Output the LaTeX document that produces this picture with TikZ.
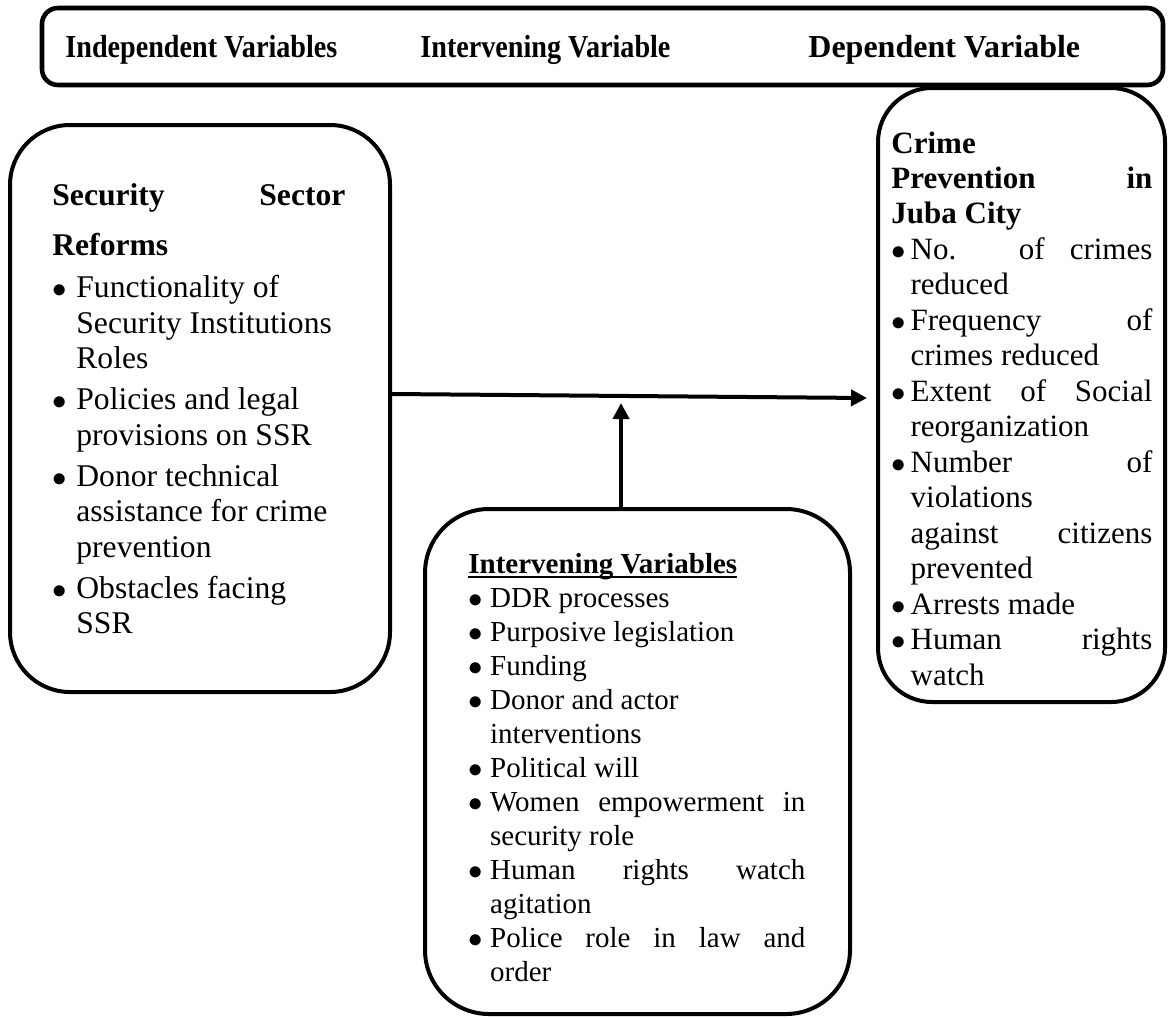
\documentclass[tikz,border=0pt]{standalone}
\usepackage{fontspec}
\setmainfont{Liberation Serif}
\newfontfamily\hdrfont[FakeStretch=0.88]{Liberation Serif}
\usetikzlibrary{arrows.meta,calc}

\tolerance=10000
\hbadness=10000
\hyphenpenalty=10000
\exhyphenpenalty=10000

% bullet with hanging text
\newlength{\bulletgap}
\newcommand{\bitem}{\par\noindent\hangindent=\bulletgap\hangafter=1\makebox[\bulletgap][l]{$\bullet$}\ignorespaces}
% word style underline
\newcommand{\hdrul}[1]{\setbox0=\hbox{#1}\rlap{\rule[-2.4pt]{\wd0}{1.1pt}}\box0}

\begin{document}
\begin{tikzpicture}[x=0.5pt,y=-0.5pt,
    varbox/.style={draw, line width=2pt, rounded corners=#1, inner sep=0pt},
    vartext/.style={anchor=north west, inner sep=0pt, align=justify},
    hdrtext/.style={anchor=base west, inner sep=0pt, font=\hdrfont\bfseries\fontsize{16pt}{18pt}\selectfont},
    link/.style={line width=2pt, -{Triangle[length=8pt,width=8pt]}}]
  \useasboundingbox (0,0) rectangle (1170,1017);

  % header strip
  \node[varbox=8pt, line width=2.3pt, minimum width=560.5pt, minimum height=38.5pt] (hdr) at (602.5,46.5) {};
  \node[hdrtext] (hdrind) at (65,57) {Independent Variables};
  \node[hdrtext] (hdrint) at (420,57) {Intervening Variable};
  \node[hdrtext, font=\rmfamily\bfseries\fontsize{16pt}{18pt}\selectfont] (hdrdep) at (808,57) {Dependent Variable};

  % independent variables (left)
  \node[varbox=30pt, minimum width=190pt, minimum height=283.5pt] (lbox) at (200,408.5) {};
  \node[vartext, text width=146.5pt, font=\fontsize{15.8pt}{17.75pt}\selectfont] (ltext) at (52,183) {%
    \setlength{\bulletgap}{0.76em}%
    {\bfseries\baselineskip=25pt\noindent Security Sector\linebreak Reforms\par}\vskip 0.75pt
    \parskip=2.75pt
    \bitem Functionality of\newline Security Institutions\newline Roles
    \bitem Policies and legal\newline provisions on SSR
    \bitem Donor technical\newline assistance for crime\newline prevention
    \bitem Obstacles facing\newline SSR\par};

  % dependent variable (right)
  \node[varbox=27pt, minimum width=143.5pt, minimum height=307pt] (rbox) at (1021.5,395) {};
  \node[vartext, text width=130.5pt, font=\fontsize{15.5pt}{17.75pt}\selectfont] (rtext) at (891,132) {%
    \setlength{\bulletgap}{0.62em}%
    {\bfseries\baselineskip=17.5pt\noindent Crime\newline Prevention in\linebreak Juba City\par}
    \bitem No. of crimes\linebreak reduced
    \bitem Frequency of\linebreak crimes reduced
    \bitem Extent of Social\linebreak reorganization
    \bitem Number of\linebreak violations\newline against citizens\linebreak prevented
    \bitem Arrests made
    \bitem Human rights\linebreak watch\par};

  % intervening variables (middle)
  \node[varbox=32pt, minimum width=212.5pt, minimum height=252.5pt] (mbox) at (637.5,761.5) {};
  \node[vartext, text width=168.5pt, font=\fontsize{14.5pt}{17pt}\selectfont] (mtext) at (468,553) {%
    \setlength{\bulletgap}{0.75em}%
    {\bfseries\noindent\hdrul{Intervening Variables}\par}
    \bitem DDR processes
    \bitem Purposive legislation
    \bitem Funding
    \bitem Donor and actor\newline interventions
    \bitem Political will
    \bitem Women empowerment in\linebreak security role
    \bitem Human rights watch\linebreak agitation
    \bitem Police role in law and\linebreak order\par};

  % arrows
  \coordinate (meet) at (621,403);
  \draw[link] (lbox.east |- 0,394) -- ($(rbox.west |- 0,398)+(-9,0)$);
  \draw[link] (mbox.north -| meet) -- (meet);
\end{tikzpicture}
\end{document}
